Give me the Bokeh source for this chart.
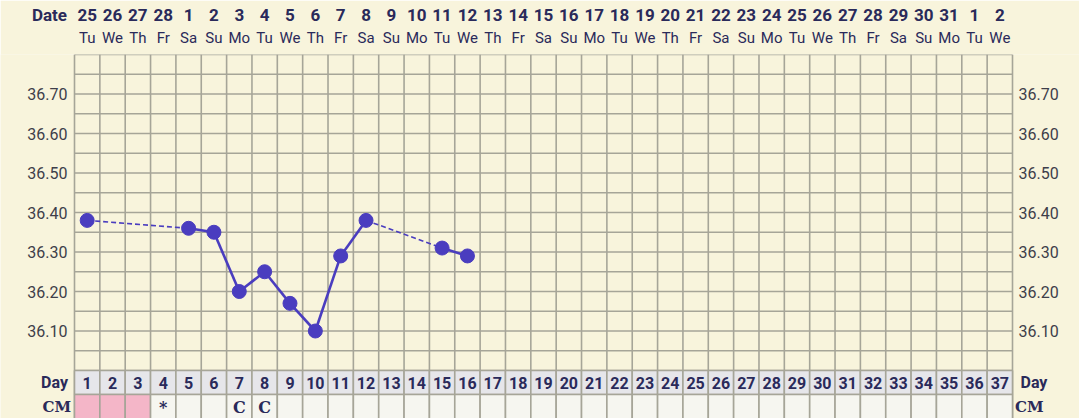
from bokeh.plotting import figure
from bokeh.models import Range1d, LinearAxis, FixedTicker, ColumnDataSource
from bokeh.core.properties import value
from bokeh.embed import file_html
from bokeh.resources import INLINE

# ---------------- data ----------------
days = list(range(1, 38))
dates = ["25", "26", "27", "28", "1", "2", "3", "4", "5", "6", "7", "8", "9", "10",
         "11", "12", "13", "14", "15", "16", "17", "18", "19", "20", "21", "22", "23",
         "24", "25", "26", "27", "28", "29", "30", "31", "1", "2"]
weekdays = ["Tu", "We", "Th", "Fr", "Sa", "Su", "Mo"] * 5 + ["Tu", "We"]
temp_days = [1, 5, 6, 7, 8, 9, 10, 11, 12, 15, 16]
temps = [36.38, 36.36, 36.35, 36.20, 36.25, 36.17, 36.10, 36.29, 36.38, 36.31, 36.29]
temp_ticks = [36.10, 36.20, 36.30, 36.40, 36.50, 36.60, 36.70]
grid_temps = [36.00, 36.05, 36.10, 36.15, 36.20, 36.25, 36.30, 36.35, 36.40,
              36.45, 36.50, 36.55, 36.60, 36.65, 36.70, 36.75, 36.80]
period_days = [1, 2, 3]
cm_days = [4, 7, 8]
cm_text = ["*", "C", "C"]

# ---------------- geometry / style ----------------
BG = "#f8f4dc"
GRID = "#a6a598"
NAVY = "#2a2a5a"
LINE = "#4a3dbf"
DAYFILL = "#e6e6ea"
CMFILL = "#f6f6f0"
PINK = "#f4b6c8"

W, H = 1079, 418
LEFT_PX, RIGHT_PX, TOP_PX = 74, 1012, 54
COL_PX = (RIGHT_PX - LEFT_PX) / 37.0
PX_PER_DEG = 395.0
T_TOP = 36.80
X0 = 0.5 - LEFT_PX / COL_PX
X1 = 37.5 + (W - RIGHT_PX) / COL_PX
Y0 = T_TOP - (H - TOP_PX) / PX_PER_DEG
DAY_TOP = 36.00
DAY_BOT = DAY_TOP - 24 / PX_PER_DEG
CM_BOT = DAY_BOT - 30 / PX_PER_DEG
DAY_MID = (DAY_TOP + DAY_BOT) / 2
CM_MID = DAY_BOT - 12.5 / PX_PER_DEG

def px(dx):
    return dx / COL_PX

p = figure(width=W, height=H, output_backend="svg", toolbar_location=None,
           x_range=Range1d(X0, X1), y_range=Range1d(Y0, T_TOP),
           x_axis_location=None, y_axis_location=None,
           min_border_left=0, min_border_right=0, min_border_top=TOP_PX, min_border_bottom=0)
p.background_fill_color = BG
p.border_fill_color = BG
p.outline_line_color = None
p.grid.visible = False

# top axes: weekday names and dates
wk_axis = LinearAxis(ticker=FixedTicker(ticks=days),
                     major_label_overrides={d: w for d, w in zip(days, weekdays)})
date_tick = 0.5 - px(25)
dt_axis = LinearAxis(ticker=FixedTicker(ticks=[date_tick] + days),
                     major_label_overrides={**{d: s for d, s in zip(days, dates)},
                                            date_tick: "Date"})
for ax, size, style, stand in ((wk_axis, "15px", "normal", 8), (dt_axis, "17px", "bold", 1)):
    ax.axis_line_color = None
    ax.major_tick_line_color = None
    ax.minor_tick_line_color = None
    ax.major_tick_out = 0
    ax.major_tick_in = 0
    ax.major_label_standoff = stand
    ax.major_label_text_font = "Roboto"
    ax.major_label_text_font_size = size
    ax.major_label_text_font_style = style
    ax.major_label_text_color = NAVY
p.add_layout(wk_axis, "above")
p.add_layout(dt_axis, "above")

# chart grid
vx = [d - 0.5 for d in days] + [37.5]
p.segment(x0=vx, x1=vx, y0=Y0, y1=T_TOP, line_color=GRID, line_width=1.6)
p.segment(x0=0.5, x1=37.5, y0=grid_temps, y1=grid_temps, line_color=GRID, line_width=1.6)

# temperature labels (left and right)
tick_txt = ["%.2f" % t for t in temp_ticks]
p.text(x=0.5 - px(7), y=temp_ticks, text=tick_txt, text_font=value("Roboto"),
       text_font_size=value("16px"), text_color="#3e3e4a", text_align="right",
       text_baseline="middle")
p.text(x=37.5 + px(6), y=temp_ticks, text=tick_txt, text_font=value("Roboto"),
       text_font_size=value("16px"), text_color="#3e3e4a", text_align="left",
       text_baseline="middle")

# day row and CM row cells
p.quad(left=[d - 0.5 for d in days], right=[d + 0.5 for d in days],
       top=DAY_TOP, bottom=DAY_BOT, fill_color=DAYFILL, line_color=GRID, line_width=1.6)
cm_colors = [PINK if d in period_days else CMFILL for d in days]
p.quad(left=[d - 0.5 for d in days], right=[d + 0.5 for d in days],
       top=DAY_BOT, bottom=CM_BOT, fill_color=cm_colors, line_color=GRID, line_width=1.6)
p.text(x=days, y=DAY_MID, text=[str(d) for d in days],
       text_font=value("Roboto"), text_font_style="bold", text_font_size=value("16px"),
       text_color=NAVY, text_align="center", text_baseline="middle")
p.text(x=cm_days, y=CM_MID, text=cm_text,
       text_font=value("DejaVu Serif"), text_font_style="bold", text_font_size=value("16px"),
       text_color=NAVY, text_align="center", text_baseline="middle")

# row labels
p.text(x=[0.5 - px(6.5), 37.5 + px(8)], y=DAY_MID, text=["Day", "Day"],
       text_align=["right", "left"], text_font=value("Roboto"), text_font_style="bold",
       text_font_size=value("16px"), text_color=NAVY, text_baseline="middle")
p.text(x=[0.5 - px(3.5), 37.5 + px(2.5)], y=CM_MID, text=["CM", "CM"],
       text_align=["right", "left"], text_font=value("DejaVu Serif"), text_font_style="bold",
       text_font_size=value("15px"), text_color=NAVY, text_baseline="middle")

# temperature line
solid = dict(x0=[], y0=[], x1=[], y1=[])
dashed = dict(x0=[], y0=[], x1=[], y1=[])
for (da, ta), (db, tb) in zip(zip(temp_days, temps), zip(temp_days[1:], temps[1:])):
    tgt = solid if db - da == 1 else dashed
    tgt["x0"].append(da); tgt["y0"].append(ta); tgt["x1"].append(db); tgt["y1"].append(tb)
p.segment(source=ColumnDataSource(dashed), x0="x0", y0="y0", x1="x1", y1="y1",
          line_color=LINE, line_width=1.6, line_dash="5 3")
p.segment(source=ColumnDataSource(solid), x0="x0", y0="y0", x1="x1", y1="y1",
          line_color=LINE, line_width=2.6)
p.scatter(x=temp_days, y=temps, size=14, fill_color=LINE, line_color=LINE)

open("out.html", "w").write(file_html(p, INLINE))
